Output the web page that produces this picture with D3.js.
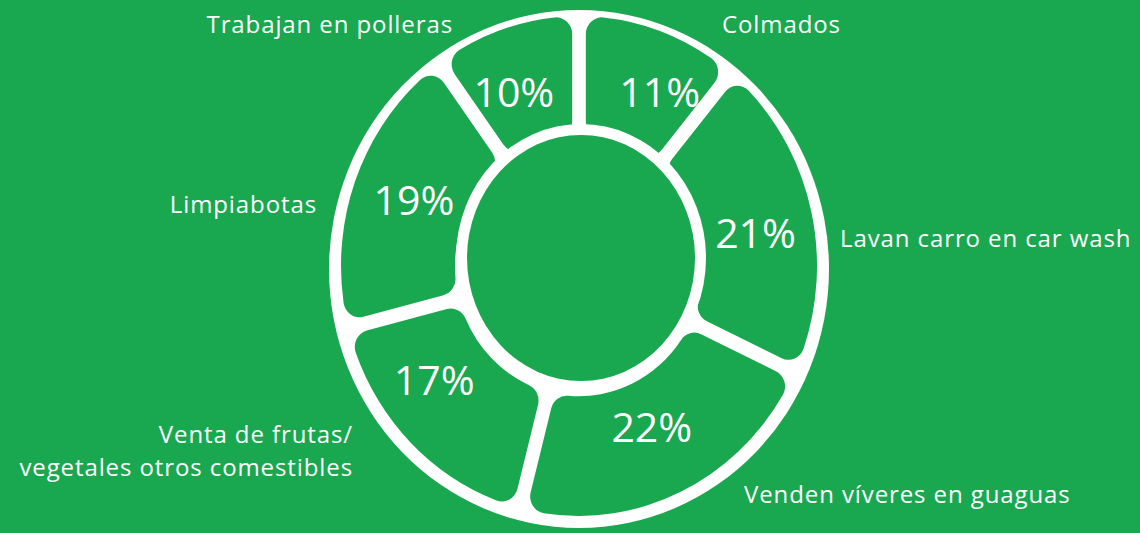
<!DOCTYPE html>
<html>
<head>
<meta charset="utf-8">
<script src="https://cdn.jsdelivr.net/npm/d3@7/dist/d3.min.js"></script>
<style>
  html, body { margin: 0; padding: 0; background: #19a84f; }
  svg { display: block; }
</style>
</head>
<body>
<svg id="chart" width="1140" height="533"></svg>
<script>
// ---- data ----
const categories = [
  "Colmados",
  "Lavan carro en car wash",
  "Venden víveres en guaguas",
  "Venta de frutas/\nvegetales otros comestibles",
  "Limpiabotas",
  "Trabajan en polleras"
];
const values = [11, 21, 22, 17, 19, 10];
const valueLabels = ["11%", "21%", "22%", "17%", "19%", "10%"];

// ---- layout ----
const W = 1140, H = 533;
const GREEN = "#19a84f", WHITE = "#ffffff";
const cx = 579, cy = 266, sy = 1.05;
const font = "'Open Sans', 'Noto Sans', sans-serif";

// callout placement (text only): [x, y, anchor]
const callouts = [
  [722, 33, "start"],
  [840, 247, "start"],
  [744, 503, "start"],
  [353, 443, "end"],
  [317, 213, "end"],
  [453, 33, "end"]
];
// small nudges of the percentage labels from their centroids
const pctNudge = [[18, 9], [-4, 10], [-6, -15], [-14, -23], [9, 0], [-8, 11]];

const svg = d3.select("#chart");
svg.append("rect").attr("width", W).attr("height", H).attr("fill", GREEN);

// white base disc (outer ring)
svg.append("ellipse")
  .attr("cx", 579).attr("cy", 269).attr("rx", 250).attr("ry", 259)
  .attr("fill", WHITE);

const pie = d3.pie().sort(null).value(d => d);
const arcs = pie(values);

const arc = d3.arc()
  .innerRadius(124)
  .outerRadius(238)
  .padAngle(0.052)
  .padRadius(262)
  .cornerRadius(16);

const g = svg.append("g").attr("transform", `translate(${cx},${cy}) scale(1,${sy})`);
g.selectAll("path.seg")
  .data(arcs)
  .join("path")
  .attr("class", "seg")
  .attr("d", arc)
  .attr("fill", GREEN);

// inner hole with white outline
svg.append("ellipse")
  .attr("cx", 581).attr("cy", 258).attr("rx", 125).attr("ry", 134)
  .attr("fill", WHITE);
svg.append("ellipse")
  .attr("cx", 581).attr("cy", 258).attr("rx", 114).attr("ry", 123)
  .attr("fill", GREEN);

// percentage labels
const labelArc = d3.arc().innerRadius(185).outerRadius(185);
svg.selectAll("text.pct")
  .data(arcs)
  .join("text")
  .attr("class", "pct")
  .attr("x", (d, i) => cx + labelArc.centroid(d)[0] + pctNudge[i][0])
  .attr("y", (d, i) => cy + labelArc.centroid(d)[1] * sy + pctNudge[i][1])
  .attr("dy", "0.36em")
  .attr("text-anchor", "middle")
  .attr("fill", WHITE)
  .attr("font-family", font)
  .attr("font-size", 41)
  .text((d, i) => valueLabels[i]);

// category callouts
const lineGap = 33;
categories.forEach((d, i) => {
  const [x, y, anchor] = callouts[i];
  d.split("\n").forEach((ln, k) => {
    svg.append("text")
      .attr("class", "cat")
      .attr("x", x)
      .attr("y", y + k * lineGap)
      .attr("text-anchor", anchor)
      .attr("fill", WHITE)
      .attr("font-family", font)
      .attr("font-size", 24)
      .attr("letter-spacing", 0.9)
      .text(ln);
  });
});
</script>
</body>
</html>
